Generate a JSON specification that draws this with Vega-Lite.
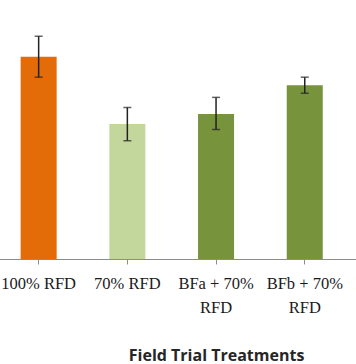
{
  "$schema": "https://vega.github.io/schema/vega-lite/v6.json",
  "width": 356,
  "height": 364,
  "autosize": {"type": "fit", "contains": "padding"},
  "padding": 0,
  "background": "white",
  "config": {"view": {"stroke": null}},
  "data": {
    "values": [
      {"treatment": "100% RFD", "mean": 78.1, "lower": 70.2, "upper": 86.0, "group": "full"},
      {"treatment": "70% RFD", "mean": 52.1, "lower": 45.7, "upper": 58.5, "group": "reduced"},
      {"treatment": "BFa + 70% RFD", "mean": 56.0, "lower": 50.0, "upper": 62.4, "group": "bio"},
      {"treatment": "BFb + 70% RFD", "mean": 67.1, "lower": 64.0, "upper": 70.2, "group": "bio"},
      {"treatment": "BFc + 70% RFD", "mean": 60.0, "lower": 55.0, "upper": 65.0, "group": "bio"}
    ]
  },
  "layer": [
    {
      "mark": {"type": "bar", "width": {"band": 0.406}},
      "encoding": {
        "x": {
          "field": "treatment",
          "type": "nominal",
          "sort": null,
          "scale": {"range": [-6.7, 436.8], "paddingInner": 0, "paddingOuter": 0},
          "axis": {
            "title": "Field Trial Treatments",
            "titleFont": "Open Sans",
            "titleFontWeight": "bold",
            "titleFontSize": 16,
            "titleColor": "#262626",
            "titlePadding": 32,
            "labelAngle": 0,
            "labelFont": "Liberation Serif",
            "labelFontSize": 16.5,
            "labelColor": "#1a1a1a",
            "labelPadding": 11,
            "labelLineHeight": 24,
            "labelExpr": "length(datum.value) > 9 ? [slice(datum.value, 0, -4), 'RFD'] : datum.value",
            "tickSize": 5,
            "tickColor": "#8c8c8c",
            "domainColor": "#8c8c8c",
            "grid": false
          }
        },
        "y": {"field": "mean", "type": "quantitative", "scale": {"domain": [0, 100], "nice": false}, "axis": null},
        "color": {
          "field": "group",
          "type": "nominal",
          "scale": {"domain": ["full", "reduced", "bio"], "range": ["#E36C09", "#C3D69B", "#77933C"]},
          "legend": null
        }
      }
    },
    {
      "mark": {"type": "rule", "color": "#222222", "strokeWidth": 1.5},
      "encoding": {
        "x": {"field": "treatment", "type": "nominal", "sort": null},
        "y": {"field": "lower", "type": "quantitative"},
        "y2": {"field": "upper"}
      }
    },
    {
      "mark": {"type": "tick", "color": "#222222", "thickness": 1.5, "size": 8},
      "encoding": {
        "x": {"field": "treatment", "type": "nominal", "sort": null},
        "y": {"field": "lower", "type": "quantitative"}
      }
    },
    {
      "mark": {"type": "tick", "color": "#222222", "thickness": 1.5, "size": 8},
      "encoding": {
        "x": {"field": "treatment", "type": "nominal", "sort": null},
        "y": {"field": "upper", "type": "quantitative"}
      }
    }
  ]
}
